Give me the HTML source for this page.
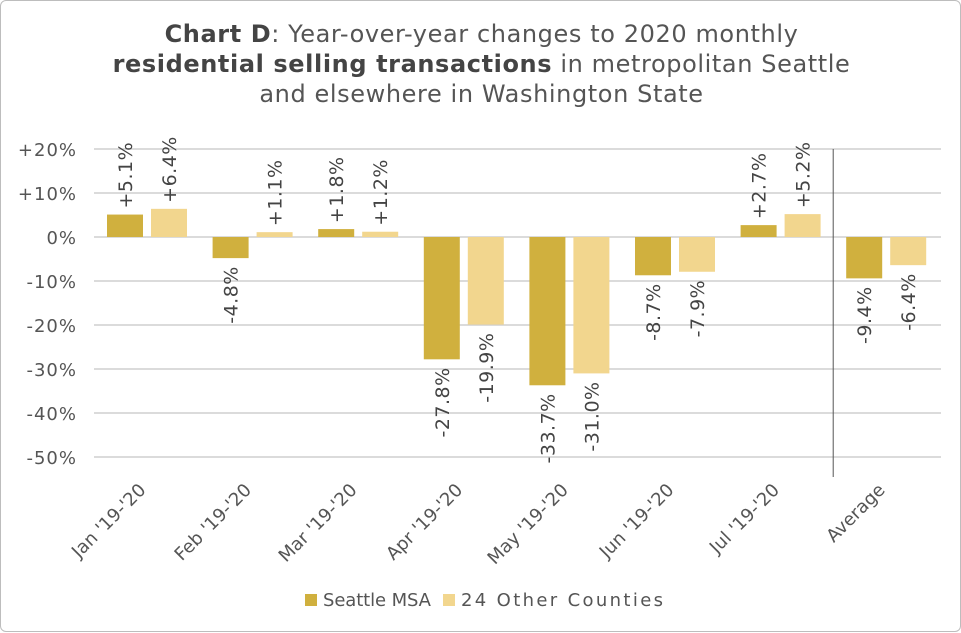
<!DOCTYPE html>
<html><head><meta charset="utf-8"><style>
body{margin:0;background:#fff;}
#wrap{position:relative;width:961px;height:632px;box-sizing:border-box;border:1px solid #bdbdbd;border-radius:6px;background:#fff;font-family:"DejaVu Sans","Liberation Sans",sans-serif;}
.t{position:absolute;left:0;width:961px;text-align:center;font-size:24px;color:#555;line-height:30px;letter-spacing:0.6px;}
</style></head><body>
<div id="wrap">
<div class="t" style="top:18px"><b style="color:#444">Chart D</b>: Year-over-year changes to 2020 monthly<br><b style="color:#444">residential selling transactions</b> in metropolitan Seattle<br>and elsewhere in Washington State</div>
<svg id="c" width="961" height="632" style="position:absolute;left:0;top:0"></svg>
</div>
<script>
const categories=["Jan '19-'20","Feb '19-'20","Mar '19-'20","Apr '19-'20","May '19-'20","Jun '19-'20","Jul '19-'20","Average"];
const seattle=[5.1,-4.8,1.8,-27.8,-33.7,-8.7,2.7,-9.4];
const others=[6.4,1.1,1.2,-19.9,-31.0,-7.9,5.2,-6.4];
const ticks=[20,10,0,-10,-20,-30,-40,-50];
const seriesNames=["Seattle MSA","24 Other Counties"];
const colors=["#D0B03E","#F2D68E"];
const NS="http://www.w3.org/2000/svg";
const svg=document.getElementById('c');
const x0=93,gw=105.6,y0=236,pp=4.4;
const FF='DejaVu Sans, Liberation Sans, sans-serif';
const y=v=>y0-v*pp;
function el(t,a){const e=document.createElementNS(NS,t);for(const k in a)e.setAttribute(k,a[k]);svg.appendChild(e);return e;}
ticks.forEach(t=>{
 const g=el('line',{x1:x0,x2:940,y1:y(t),y2:y(t),stroke:'#cfcfcf','stroke-width':1.5});
 
 
 const l=el('text',{x:76,y:y(t)+7,'text-anchor':'end','font-size':18,fill:'#555','font-family':FF,'letter-spacing':1});
 l.textContent=(t>0?'+':'')+t+'%';
 
 
});
const sep=el('line',{x1:x0+7*gw,x2:x0+7*gw,y1:148,y2:476,stroke:'#555','stroke-width':1});


[seattle,others].forEach((ser,si)=>{
 ser.forEach((v,i)=>{
  const bx=x0+i*gw+13+si*44;
  const r=el('rect',{x:bx,width:36,y:Math.min(y(v),y0),height:Math.abs(v)*pp,fill:colors[si]});
  
  
  const cx=bx+18+7;
  const txt=(v>0?'+':'')+v.toFixed(1)+'%';
  const ly=v>=0?y(v)-6:y(v)+8;
  const t=el('text',{x:0,y:0,'font-size':19,fill:'#444','font-family':FF,'letter-spacing':0.5,'text-anchor':v>=0?'start':'end',transform:`translate(${cx},${ly}) rotate(-90)`});
  t.textContent=txt;
  
  
 });
});
categories.forEach((c,i)=>{
 const cx=x0+i*gw+gw/2;
 const t=el('text',{x:0,y:0,'font-size':18,fill:'#555','font-family':FF,'text-anchor':'end',transform:`translate(${cx},${490}) rotate(-45)`});
 t.textContent=c;
 
 
});
const lx=[304,442];
const lw=[108,202];
seriesNames.forEach((n,i)=>{
 const r=el('rect',{x:lx[i],y:593,width:12,height:12,fill:colors[i]});
 
 
 const t=el('text',{x:lx[i]+18,y:605,'font-size':18,fill:'#555','font-family':FF,textLength:lw[i],lengthAdjust:'spacing'});
 t.textContent=n;
 
 
});
</script>
</body></html>
